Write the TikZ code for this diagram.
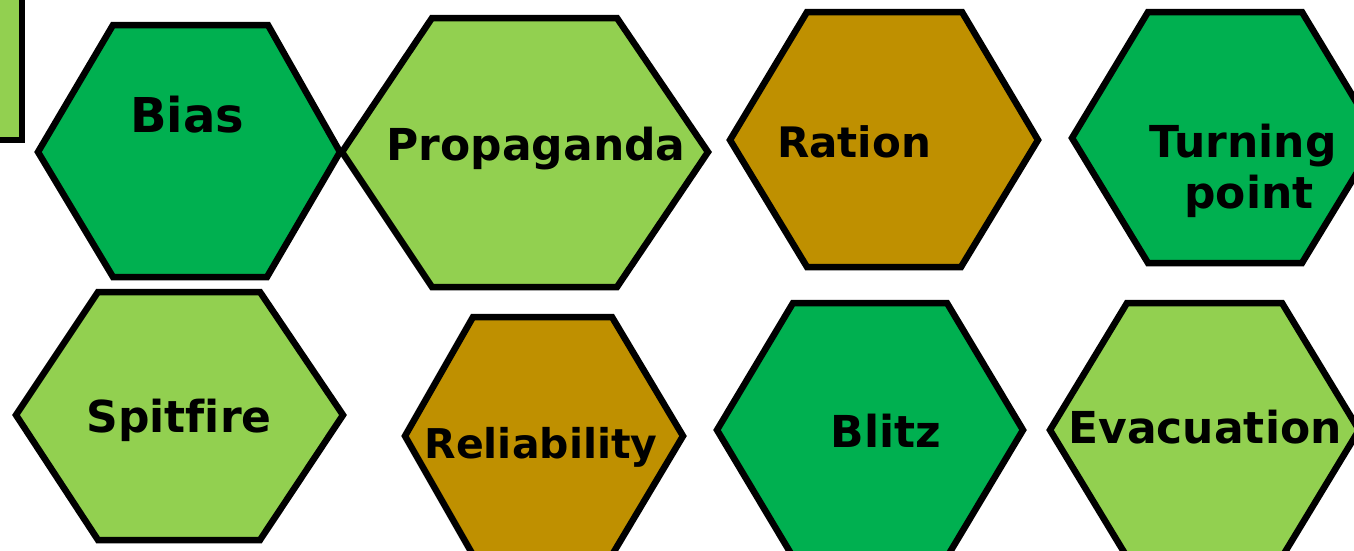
\documentclass[tikz,border=0pt]{standalone}
\usepackage{fontspec}
\setmainfont{DejaVu Sans}[Ligatures=NoCommon]
\definecolor{dkgreen}{HTML}{00B050}
\definecolor{ltgreen}{HTML}{92D050}
\definecolor{gold}{HTML}{BF9000}
\begin{document}
\begin{tikzpicture}[x=1pt,y=-1pt,
  hexbox/.style={draw=black,line width=6.5pt,line join=miter},
  lbl/.style={anchor=base,inner sep=0pt,font=\fontsize{44}{50}\selectfont\bfseries,text=black}]
\useasboundingbox (0,0) rectangle (1354,550);
\fill[white] (0,0) rectangle (1354,550);
\clip (0,0) rectangle (1354,550);
% partial box top-left
\draw[hexbox,fill=ltgreen] (-20,-20) rectangle (22,140);
% hexagons
\draw[hexbox,fill=dkgreen] (38,152) -- (113,25) -- (268,25) -- (340,152) -- (267,277) -- (113,277) -- cycle;
\draw[hexbox,fill=ltgreen] (342,152) -- (432,18) -- (617,18) -- (708,152) -- (617,287) -- (432,287) -- cycle;
\draw[hexbox,fill=gold] (730,140) -- (807,12) -- (962,12) -- (1038,140) -- (961,267) -- (807,267) -- cycle;
\draw[hexbox,fill=dkgreen] (1072,138) -- (1148,12) -- (1302,12) -- (1378,138) -- (1302,263) -- (1148,263) -- cycle;
\draw[hexbox,fill=ltgreen] (16,415) -- (98,292) -- (260,292) -- (343,415) -- (260,540) -- (98,540) -- cycle;
\draw[hexbox,fill=gold] (405,436) -- (473,317) -- (612,317) -- (683,436) -- (612,555) -- (473,555) -- cycle;
\draw[hexbox,fill=dkgreen] (717,430) -- (793,303) -- (947,303) -- (1023,430) -- (947,557) -- (793,557) -- cycle;
\draw[hexbox,fill=ltgreen] (1050,430) -- (1127,303) -- (1282,303) -- (1359,430) -- (1282,557) -- (1127,557) -- cycle;
% labels
\node[lbl,font=\fontsize{48}{54}\selectfont\bfseries] (bias) at (187,132) {Bias};
\node[lbl] (prop) at (536,160) {Propaganda};
\node[lbl,font=\fontsize{42}{48}\selectfont\bfseries] (ration) at (854,157) {Ration};
\node[lbl] (turn1) at (1243,157) {Turning};
\node[lbl] (turn2) at (1249,208) {point};
\node[lbl] (spit) at (179,432) {Spitfire};
\node[lbl,font=\fontsize{41}{47}\selectfont\bfseries] (rel) at (541,458) {Reliability};
\node[lbl] (blitz) at (886,447) {Blitz};
\node[lbl] (evac) at (1205,443) {Evacuation};
\end{tikzpicture}
\end{document}
